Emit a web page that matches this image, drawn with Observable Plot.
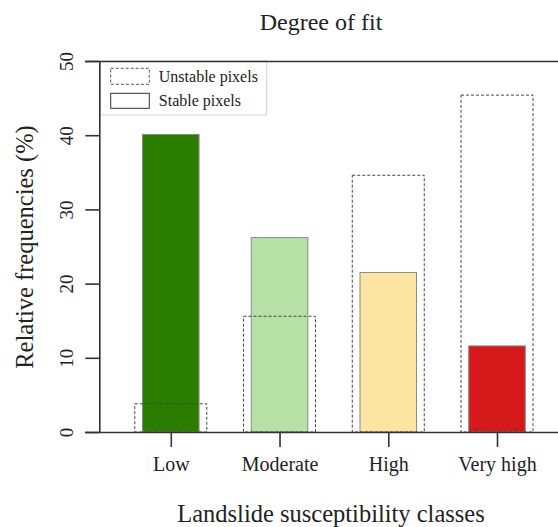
<!DOCTYPE html>
<html><head><meta charset="utf-8">
<script src="https://cdn.jsdelivr.net/npm/d3@7"></script>
<script src="https://cdn.jsdelivr.net/npm/@observablehq/plot@0.6"></script>
<style>body{margin:0;background:#fff}</style>
</head><body><div id="chart"></div>
<script>
const categories = ["Low", "Moderate", "High", "Very high"];
const stable = [40.1, 26.2, 21.5, 11.6];
const unstable = [3.8, 15.6, 34.6, 45.4];
const fills = ["#2b7d00", "#b7e0a5", "#fde4a1", "#d6191b"];
const yTicks = [0, 10, 20, 30, 40, 50];
const legendLabels = ["Unstable pixels", "Stable pixels"];
const title = "Degree of fit";
const xLabel = "Landslide susceptibility classes";
const yLabel = "Relative frequencies (%)";

const rows = categories.map((c, i) => ({i, c, stable: stable[i], unstable: unstable[i], fill: fills[i]}));
const xDomain = [-0.789, 3.561];
const FONT = "'Liberation Serif', 'Times New Roman', serif";
const AX = "#333";

const plot = Plot.plot({
  width: 558, height: 527,
  marginLeft: 85, marginRight: 0, marginTop: 61, marginBottom: 95,
  style: {fontFamily: FONT, background: "#fff", color: "#222"},
  x: {type: "linear", domain: xDomain},
  y: {domain: [0, 50]},
  color: {type: "identity"},
  marks: [
    // legend box
    Plot.rect([0], {insetLeft: 15, insetRight: 291.3, insetTop: 0, insetBottom: 317, fill: "none", stroke: "#d0d0d0", strokeWidth: 1}),
    Plot.rect([0], {insetLeft: 25.7, insetRight: 408.7, insetTop: 7.3, insetBottom: 347.7, fill: "none", stroke: "#555", strokeWidth: 1, strokeDasharray: "3,2"}),
    Plot.rect([0], {insetLeft: 25.7, insetRight: 408.7, insetTop: 32.3, insetBottom: 323.7, fill: "none", stroke: "#333", strokeWidth: 1}),
    Plot.text([legendLabels[0]], {frameAnchor: "top-left", dx: 73.3, dy: 20.7, lineAnchor: "bottom", textAnchor: "start", fontSize: 16, fill: "#222", fontFamily: FONT}),
    Plot.text([legendLabels[1]], {frameAnchor: "top-left", dx: 73.3, dy: 44, lineAnchor: "bottom", textAnchor: "start", fontSize: 16, fill: "#222", fontFamily: FONT}),
    // stable bars
    Plot.rect(rows, {x1: d => d.i - 0.26, x2: d => d.i + 0.26, y1: 0, y2: "stable", fill: "fill", stroke: "#8a8a8a", strokeWidth: 1}),
    // unstable bars (dashed outline)
    Plot.rect(rows, {x1: d => d.i - 0.331, x2: d => d.i + 0.331, y1: 0, y2: "unstable", fill: "none", stroke: "#444", strokeWidth: 1, strokeDasharray: "3,2"}),
    // axes lines
    Plot.ruleY([0, 50], {stroke: AX, strokeWidth: 1.6}),
    Plot.ruleX([xDomain[0]], {y1: 0, y2: 50, dx: 14.3, stroke: AX, strokeWidth: 1.6}),
    Plot.axisY({ticks: yTicks, tickSize: 14, dx: 14.3, tickFormat: () => "", label: null, stroke: AX, strokeWidth: 1.6}),
    Plot.axisX({ticks: [0, 1, 2, 3], tickSize: 15, tickFormat: () => "", label: null, stroke: AX, strokeWidth: 1.6}),
    // tick labels
    Plot.text(yTicks, {y: d => d, text: d => String(d), frameAnchor: "left", dx: -13, rotate: -90, lineAnchor: "bottom", textAnchor: "middle", fontSize: 19, fill: "#222", fontFamily: FONT}),
    Plot.text(rows, {x: "i", text: "c", frameAnchor: "bottom", dy: 38, lineAnchor: "bottom", textAnchor: "middle", fontSize: 20, fill: "#222", fontFamily: FONT}),
    // titles
    Plot.text([title], {frameAnchor: "top", dx: -1, dy: -31.7, lineAnchor: "bottom", fontSize: 24, fill: "#222", fontFamily: FONT}),
    Plot.text([xLabel], {frameAnchor: "bottom", dx: 9, dy: 89, lineAnchor: "bottom", fontSize: 24.5, fill: "#222", fontFamily: FONT}),
    Plot.text([yLabel], {frameAnchor: "left", dx: -53, rotate: -90, lineAnchor: "bottom", textAnchor: "middle", fontSize: 24.5, fill: "#222", fontFamily: FONT})
  ]
});
document.getElementById("chart").appendChild(plot);
</script>
</body></html>
